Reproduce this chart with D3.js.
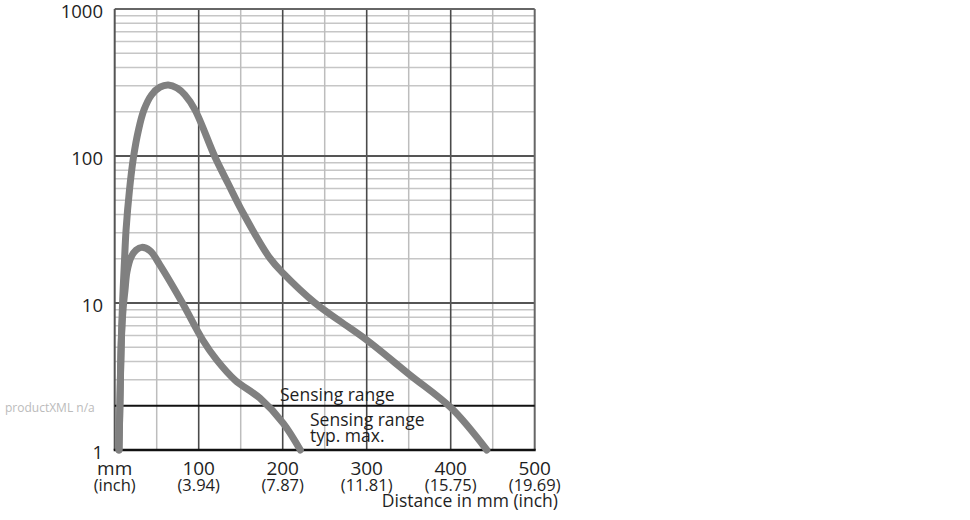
<!DOCTYPE html>
<html><head><meta charset="utf-8">
<script src="https://cdn.jsdelivr.net/npm/d3@7"></script>
<style>body{margin:0;background:#fff}svg{display:block}text{font-family:"Open Sans",sans-serif;fill:#1e1e1e}</style>
</head><body><svg id="c" width="970" height="520"></svg>
<script>
// Data (distance in mm, value)
const curveLarge = [[5.1,1],[6.3,2.19],[7.9,5.6],[9.5,10.5],[11.7,19.6],[13.5,31.3],[17.6,58.7],[22.4,98.4],[28.3,150],[34.9,206],[43.8,260],[53.9,294],[63.8,304],[74.2,290],[83.7,260],[95.6,206],[119.4,98.4],[135,65],[153,40.8],[185,20.1],[200.7,15.9],[238.5,10],[268,7.54],[300,5.6],[351.5,3.24],[401,1.92],[443,1]];
const curveSmall = [[5.1,1],[6.3,2.19],[7.9,5.6],[9.9,8.95],[12.3,12.3],[14.6,16.3],[19.4,20.5],[25.4,22.9],[32.1,23.9],[42,22.7],[53.9,18.1],[79.8,10.2],[104.8,5.6],[121.4,4.1],[143.2,2.99],[172.9,2.25],[200.7,1.52],[221,1]];
const xTicks = [100,200,300,400,500];
const xInch = ["(3.94)","(7.87)","(11.81)","(15.75)","(19.69)"];
const yTicks = [1,10,100,1000];
const thresholdValue = 2;
const labels = {range:"Sensing range", typMax1:"Sensing range", typMax2:"typ. max.", xTitle:"Distance in mm (inch)", unit:"mm", unitInch:"(inch)", watermark:"productXML n/a"};

const svg = d3.select("#c");
const x = d3.scaleLinear().domain([0,500]).range([114.7,534.7]);
const y = d3.scaleLog().domain([1,1000]).range([450,9]);

const g = svg.append("g");
const minorY = [];
[1,10,100].forEach(d=>{for(let k=2;k<=9;k++) minorY.push(d*k);});
g.selectAll(".hm").data(minorY.filter(v=>v!==thresholdValue)).join("line")
 .attr("x1",x(0)).attr("x2",x(500)).attr("y1",d=>y(d)).attr("y2",d=>y(d))
 .attr("stroke","#c6c6c6").attr("stroke-width",1.5);
g.selectAll(".vm").data([50,150,250,350,450]).join("line")
 .attr("x1",d=>x(d)).attr("x2",d=>x(d)).attr("y1",y(1)).attr("y2",y(1000))
 .attr("stroke","#bdbdbd").attr("stroke-width",1.5);
g.selectAll(".vM").data([100,200,300,400]).join("line")
 .attr("x1",d=>x(d)).attr("x2",d=>x(d)).attr("y1",y(1)).attr("y2",y(1000))
 .attr("stroke","#4a4a4a").attr("stroke-width",1.6);
g.selectAll(".hM").data([10,100]).join("line")
 .attr("x1",x(0)).attr("x2",x(500)).attr("y1",d=>y(d)).attr("y2",d=>y(d))
 .attr("stroke","#555").attr("stroke-width",1.8);
g.append("line").attr("x1",x(0)).attr("x2",x(500)).attr("y1",y(1000)).attr("y2",y(1000)).attr("stroke","#666").attr("stroke-width",2);
g.append("line").attr("x1",x(0)).attr("x2",x(0)).attr("y1",y(1)).attr("y2",y(1000)).attr("stroke","#555").attr("stroke-width",2);
g.append("line").attr("x1",x(500)).attr("x2",x(500)).attr("y1",y(1)).attr("y2",y(1000)).attr("stroke","#666").attr("stroke-width",2);
g.append("line").attr("x1",x(0)).attr("x2",x(500)).attr("y1",y(thresholdValue)).attr("y2",y(thresholdValue)).attr("stroke","#111").attr("stroke-width",2.2);
g.append("line").attr("x1",x(0)-1).attr("x2",x(500)+1).attr("y1",y(1)).attr("y2",y(1)).attr("stroke","#111").attr("stroke-width",2.6);

svg.append("text").attr("x",280).attr("y",401).attr("font-size",17.5).text(labels.range);
svg.append("text").attr("x",310).attr("y",426).attr("font-size",17.5).text(labels.typMax1);
svg.append("text").attr("x",310).attr("y",442).attr("font-size",17.5).text(labels.typMax2);

const line = d3.line().x(d=>x(d[0])).y(d=>y(d[1])).curve(d3.curveCatmullRom.alpha(0.5));
[curveLarge,curveSmall].forEach(c=>{
  svg.append("path").attr("d",line(c)).attr("fill","none").attr("stroke","#808080").attr("stroke-width",7).attr("stroke-linecap","round").attr("stroke-linejoin","round");
});

svg.selectAll(".yl").data(yTicks).join("text")
 .attr("x",103).attr("y",d=>y(d)+8.5).attr("text-anchor","end").attr("font-size",18.5).text(d=>d);
svg.selectAll(".xl").data(xTicks).join("text")
 .attr("x",d=>x(d)).attr("y",475).attr("text-anchor","middle").attr("font-size",19).text(d=>d);
svg.selectAll(".xi").data(xTicks).join("text")
 .attr("x",d=>x(d)).attr("y",491).attr("text-anchor","middle").attr("font-size",16.5).text((d,i)=>xInch[i]);
svg.append("text").attr("x",x(0)).attr("y",475).attr("text-anchor","middle").attr("font-size",19).text(labels.unit);
svg.append("text").attr("x",x(0)).attr("y",491).attr("text-anchor","middle").attr("font-size",16.5).text(labels.unitInch);
svg.append("text").attr("x",558).attr("y",507).attr("text-anchor","end").attr("font-size",17.5).text(labels.xTitle);
svg.append("text").attr("x",5).attr("y",412).attr("font-size",12).style("fill","#bbb").text(labels.watermark);
</script></body></html>
